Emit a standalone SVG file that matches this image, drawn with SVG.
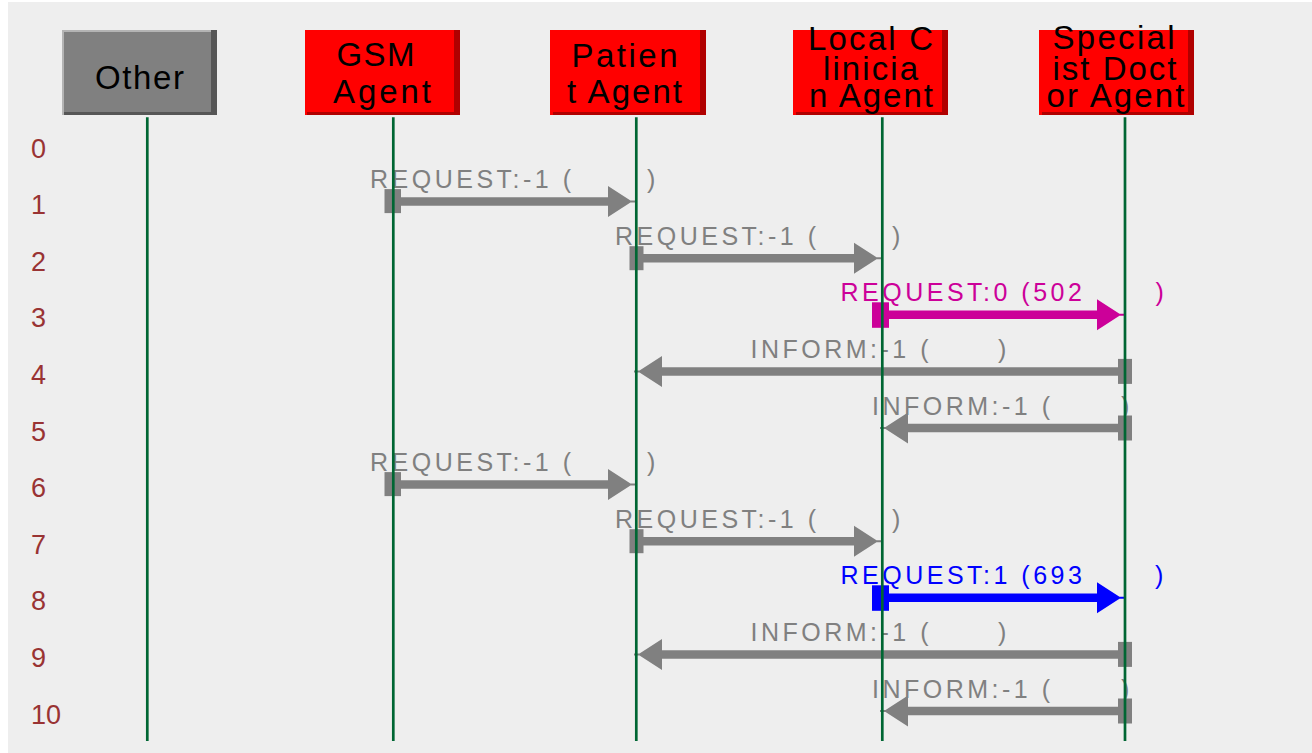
<svg xmlns="http://www.w3.org/2000/svg" width="1312" height="753" viewBox="0 0 1312 753">
<style>
.bg{fill:#eeeeee}
.red{fill:#ff0000}
.redsh{fill:#b00000}
.gry{fill:#808080}
.grysh{fill:#565656}
.gryhl{fill:#b4b4b4}
.hd{font-family:"Liberation Sans",Arial,sans-serif;font-size:33px;fill:#000000}
.life{stroke:#006633;stroke-width:2.7;fill:none}
.row{font-family:"Liberation Sans",Arial,sans-serif;font-size:27px;fill:#993333}
.lbl{font-family:"Liberation Sans",Arial,sans-serif;font-size:25px;letter-spacing:3.5px}
.g{fill:#808080}
.m{fill:#cc0099}
.b{fill:#0000ff}
.sg{stroke:#808080;stroke-width:8.5;fill:none;marker-end:url(#hg)}
.sm{stroke:#cc0099;stroke-width:8.5;fill:none;marker-end:url(#hm)}
.sb{stroke:#0000ff;stroke-width:8.5;fill:none;marker-end:url(#hb)}
</style>
<defs>
<marker id="hg" markerUnits="userSpaceOnUse" viewBox="0 0 30 31" markerWidth="30" markerHeight="31" refX="1" refY="15.5" orient="auto" overflow="visible"><path d="M0,0 L24,15.5 L0,31 Z M22,14.5 H28 V16.5 H22 Z" fill="#808080"/></marker>
<marker id="hm" markerUnits="userSpaceOnUse" viewBox="0 0 30 31" markerWidth="30" markerHeight="31" refX="1" refY="15.5" orient="auto" overflow="visible"><path d="M0,0 L24,15.5 L0,31 Z M22,14.5 H28 V16.5 H22 Z" fill="#cc0099"/></marker>
<marker id="hb" markerUnits="userSpaceOnUse" viewBox="0 0 30 31" markerWidth="30" markerHeight="31" refX="1" refY="15.5" orient="auto" overflow="visible"><path d="M0,0 L24,15.5 L0,31 Z M22,14.5 H28 V16.5 H22 Z" fill="#0000ff"/></marker>
</defs>
<rect x="0" y="0" width="1312" height="753" fill="#ffffff"/>
<rect class="bg" x="8" y="2" width="1304" height="751"/>

<g id="rows">
<text class="row" x="31" y="157.5">0</text>
<text class="row" x="31" y="214.1">1</text>
<text class="row" x="31" y="270.7">2</text>
<text class="row" x="31" y="327.3">3</text>
<text class="row" x="31" y="383.9">4</text>
<text class="row" x="31" y="440.5">5</text>
<text class="row" x="31" y="497.1">6</text>
<text class="row" x="31" y="553.7">7</text>
<text class="row" x="31" y="610.3">8</text>
<text class="row" x="31" y="666.9">9</text>
<text class="row" x="31" y="723.5">10</text>
</g>

<g id="connectors">
<rect class="g" x="384.5" y="189.1" width="16.5" height="24"/>
<path class="sg" d="M401,201.6 H609"/>
<text class="lbl g" x="370" y="188.1">REQUEST:-1 (<tspan x="647">)</tspan></text>
<rect class="g" x="629.5" y="246.2" width="14" height="24"/>
<path class="sg" d="M643,258.2 H855"/>
<text class="lbl g" x="615" y="244.7">REQUEST:-1 (<tspan x="892">)</tspan></text>
<rect class="m" x="872" y="302.3" width="17" height="25.5"/>
<path class="sm" d="M889,314.8 H1098"/>
<text class="lbl m" x="840.5" y="301.3">REQUEST:0 (502<tspan x="1155.5">)</tspan></text>
<rect class="g" x="1118" y="358.9" width="14" height="25"/>
<path class="sg" d="M1118,371.4 H661"/>
<text class="lbl g" x="750.5" y="357.9">INFORM:-1 (<tspan x="998">)</tspan></text>
<rect class="g" x="1118" y="415.5" width="14" height="25"/>
<path class="sg" d="M1118,428 H907"/>
<text class="lbl g" x="872" y="414.5">INFORM:-1 (<tspan x="1121">)</tspan></text>
<rect class="g" x="384.5" y="472.1" width="16.5" height="24"/>
<path class="sg" d="M401,484.6 H609"/>
<text class="lbl g" x="370" y="471.1">REQUEST:-1 (<tspan x="647">)</tspan></text>
<rect class="g" x="629.5" y="529.2" width="14" height="24"/>
<path class="sg" d="M643,541.2 H855"/>
<text class="lbl g" x="615" y="527.7">REQUEST:-1 (<tspan x="892">)</tspan></text>
<rect class="b" x="872" y="585.3" width="17" height="25.5"/>
<path class="sb" d="M889,597.8 H1098"/>
<text class="lbl b" x="840.5" y="584.3">REQUEST:1 (693<tspan x="1155">)</tspan></text>
<rect class="g" x="1118" y="641.9" width="14" height="25"/>
<path class="sg" d="M1118,654.4 H661"/>
<text class="lbl g" x="750.5" y="640.9">INFORM:-1 (<tspan x="998">)</tspan></text>
<rect class="g" x="1118" y="698.5" width="14" height="25"/>
<path class="sg" d="M1118,711 H907"/>
<text class="lbl g" x="872" y="697.5">INFORM:-1 (<tspan x="1121">)</tspan></text>
</g>

<g id="node-other">
<rect class="gryhl" x="62" y="30" width="155" height="85"/>
<rect class="gry" x="64" y="32" width="153" height="83"/>
<rect class="grysh" x="211" y="30" width="6" height="85"/>
<rect class="grysh" x="64" y="112" width="153" height="3"/>
<text class="hd" x="95" y="89.3" textLength="89" lengthAdjust="spacing">Other</text>
<line class="life" x1="147.3" y1="117.3" x2="147.3" y2="741"/>
</g>

<g id="node-gsm">
<rect class="red" x="305" y="30" width="155" height="85"/>
<rect class="redsh" x="454" y="30" width="6" height="85"/>
<rect class="redsh" x="307" y="112" width="153" height="3"/>
<text class="hd"><tspan x="336.5" y="65.7" textLength="78" lengthAdjust="spacing">GSM</tspan><tspan x="333" y="102.7" textLength="98" lengthAdjust="spacing">Agent</tspan></text>
<line class="life" x1="393.3" y1="117.3" x2="393.3" y2="741"/>
</g>

<g id="node-patient">
<rect class="red" x="550" y="30" width="156" height="85"/>
<rect class="redsh" x="700" y="30" width="6" height="85"/>
<rect class="redsh" x="553" y="112" width="153" height="3"/>
<text class="hd"><tspan x="571.5" y="66.7" textLength="106" lengthAdjust="spacing">Patien</tspan><tspan x="567" y="102.7" textLength="115" lengthAdjust="spacing">t Agent</tspan></text>
<line class="life" x1="636.3" y1="117.3" x2="636.3" y2="741"/>
</g>

<g id="node-local">
<rect class="red" x="793" y="30" width="155" height="85"/>
<rect class="redsh" x="942" y="30" width="6" height="85"/>
<rect class="redsh" x="796" y="112" width="152" height="3"/>
<text class="hd"><tspan x="808" y="50" textLength="125" lengthAdjust="spacing">Local C</tspan><tspan x="823" y="79.5" textLength="95" lengthAdjust="spacing">linicia</tspan><tspan x="809" y="106.7" textLength="124" lengthAdjust="spacing">n Agent</tspan></text>
<line class="life" x1="882.3" y1="117.3" x2="882.3" y2="741"/>
</g>

<g id="node-specialist">
<rect class="red" x="1039" y="30" width="155" height="85"/>
<rect class="redsh" x="1188" y="30" width="6" height="85"/>
<rect class="redsh" x="1042" y="112" width="152" height="3"/>
<text class="hd"><tspan x="1052.5" y="49.3" textLength="122" lengthAdjust="spacing">Special</tspan><tspan x="1052.5" y="79.5" textLength="124" lengthAdjust="spacing">ist Doct</tspan><tspan x="1046.5" y="106.7" textLength="138" lengthAdjust="spacing">or Agent</tspan></text>
<line class="life" x1="1125" y1="117.3" x2="1125" y2="741"/>
</g>
</svg>
